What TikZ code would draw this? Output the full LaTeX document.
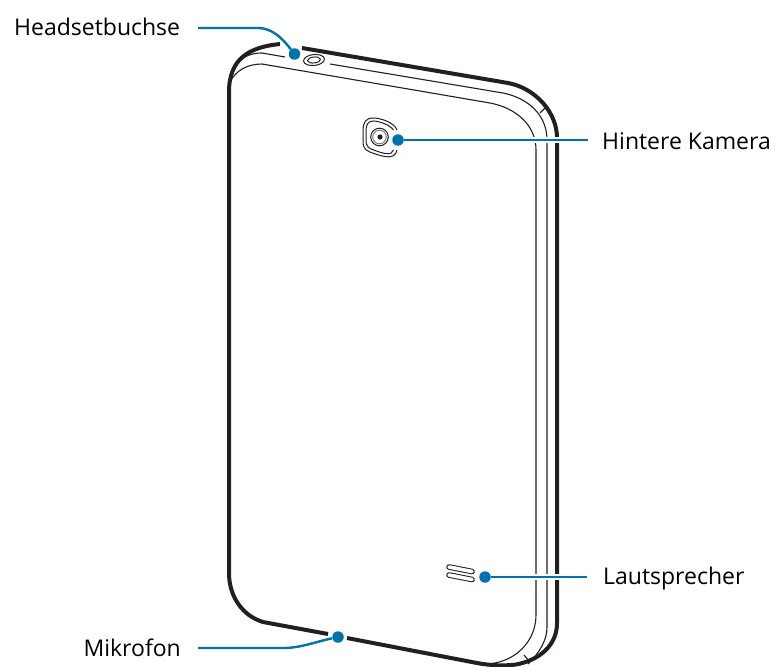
\documentclass[tikz,border=0pt]{standalone}
\usepackage{fontspec}
\setmainfont{Open Sans}
\definecolor{leader}{HTML}{0072B0}
\definecolor{body}{HTML}{231F20}
\begin{document}
\begin{tikzpicture}[x=1pt,y=-1pt,
  shell/.style={draw=body,line width=4pt},
  seam/.style={draw=body,line width=1.1pt},
  pin/.style={circle,fill=leader,inner sep=0pt,minimum size=11.5pt},
  lead/.style={draw=leader,line width=2.4pt},
  halo/.style={draw=white,line width=6pt},
  tag/.style={font=\fontsize{23pt}{27pt}\selectfont,inner sep=0pt,text=black}]
\useasboundingbox (0,0) rectangle (775,666);
%\draw[very thin,color=gray] (0,0) grid[step=50] (775,666);
% outer edge
\draw[shell] (280,44) .. controls (250,47) and (229,58) .. (229,92) -- (229,573)
  .. controls (229,597) and (243,616) .. (263,622) -- (328,634);
\draw[shell] (347,638) -- (477,663) .. controls (490,665.5) and (505,666) .. (516,664.5)
  .. controls (540,660) and (557,645) .. (557,623) -- (557,138)
  .. controls (557,112) and (535,88) .. (508,83) -- (302,48);
% seams
\draw[seam] (231,78) .. controls (236,60) and (246,53) .. (262,53) -- (285,57);
\draw[seam] (330,64) -- (503,93) .. controls (528,98) and (547,115) .. (547,140) -- (547,627)
  .. controls (547,640) and (540,652) .. (528,664);
\draw[seam] (230,82) .. controls (236,70) and (248,64) .. (262,64) -- (490,103)
  .. controls (516,108) and (536,125) .. (536,150) -- (536,615)
  .. controls (536,642) and (514,664) .. (484,664);
\draw[seam] (540,113) -- (545,108);
\draw[seam] (524,655) -- (530,662);
% jack
\draw[line width=1pt,draw=body,rotate around={6:(314,60)}] (314,60) ellipse (10.5 and 5.5);
\draw[line width=1pt,draw=body,rotate around={6:(314,60)}] (314,60) ellipse (6.5 and 3);
% camera
\draw[line width=1pt,draw=body] (397,130) .. controls (394,122) and (380,118) .. (373,118)
  .. controls (366,118) and (363,122) .. (363,131) -- (363,141)
  .. controls (363,150) and (367,151) .. (374,153.5) .. controls (384,157) and (395,160) .. (397,150);
\draw[line width=1pt,draw=body] (393.5,130) .. controls (390,125) and (379,121) .. (373.5,121)
  .. controls (368,121) and (366,124) .. (366,132) -- (366,140)
  .. controls (366,147) and (369,148.5) .. (375,150.5) .. controls (383,153.5) and (392,156) .. (393.5,150);
\draw[line width=1pt,draw=body] (379.5,137) circle (8.8);
\draw[line width=1pt,draw=gray] (379.5,137) circle (6.8);
\fill[body] (380,137) circle (2.6);
% speaker
\draw[line width=1pt,draw=body,double=white,double distance=3.6pt,line cap=round] (449,567) -- (472,571.5);
\draw[line width=1pt,draw=body,double=white,double distance=3.6pt,line cap=round] (449,575) -- (472,579.5);
% labels
\node[pin] (jack) at (294.5,54) {};
\node[pin] (cam) at (398,140) {};
\node[pin] (spk) at (485,577) {};
\node[pin] (mic) at (338,637) {};
\node[tag,anchor=west] (headset) at (14,27) {Headsetbuchse};
\node[tag,anchor=west] (kamera) at (602,141) {Hintere Kamera};
\node[tag,anchor=west] (laut) at (603,579) {Lautsprecher};
\node[tag,anchor=east] (mikro) at (181,648) {Mikrofon};
\coordinate (headsetend) at (198,28);
\coordinate (kameraend) at (588,140);
\coordinate (lautend) at (587,577);
\coordinate (mikroend) at (198,648);
% leaders
\draw[halo] (cam) -- (kameraend);
\draw[halo] (spk) -- (lautend);
\draw[lead] (headsetend) -- (258,28) .. controls (272,28) and (282,38) .. (jack);
\draw[lead] (cam) -- (kameraend);
\draw[lead] (spk) -- (lautend);
\draw[lead] (mikroend) -- (284,648) .. controls (300,648) and (315,642) .. (mic);
\end{tikzpicture}
\end{document}
